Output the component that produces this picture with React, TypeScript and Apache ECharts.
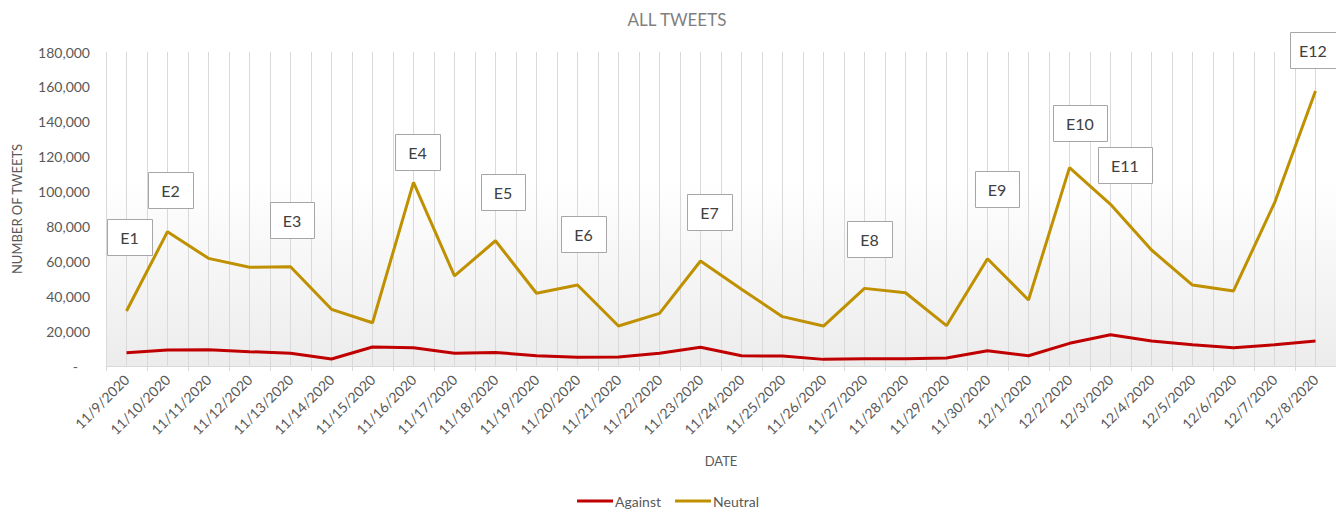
import React, { useEffect, useRef } from "react";
import * as echarts from "echarts";

const dates = [
  "11/9/2020", "11/10/2020", "11/11/2020", "11/12/2020", "11/13/2020", "11/14/2020",
  "11/15/2020", "11/16/2020", "11/17/2020", "11/18/2020", "11/19/2020", "11/20/2020",
  "11/21/2020", "11/22/2020", "11/23/2020", "11/24/2020", "11/25/2020", "11/26/2020",
  "11/27/2020", "11/28/2020", "11/29/2020", "11/30/2020", "12/1/2020", "12/2/2020",
  "12/3/2020", "12/4/2020", "12/5/2020", "12/6/2020", "12/7/2020", "12/8/2020",
];

const against = [
  7600, 9200, 9300, 8200, 7300, 4000, 10900, 10500, 7300, 7800, 5900, 5000,
  5200, 7300, 10700, 5900, 5700, 3800, 4200, 4200, 4600, 8800, 5900, 13000,
  17900, 14300, 12200, 10500, 12200, 14300,
];

const neutral = [
  31500, 77000, 61700, 56600, 56900, 32500, 24800, 105300, 51600, 71800, 41700, 46400,
  22900, 30200, 60200, 44000, 28300, 22900, 44500, 42000, 23100, 61500, 37800, 113700,
  92700, 66500, 46400, 43000, 93500, 157600,
];

const eventLabels = ["E1", "E2", "E3", "E4", "E5", "E6", "E7", "E8", "E9", "E10", "E11", "E12"];

// layout of annotation boxes (pixels)
const eventBoxes = [
  { x: 107, y: 219, w: 45 },
  { x: 148, y: 172, w: 45 },
  { x: 270, y: 202, w: 44 },
  { x: 395, y: 134, w: 45 },
  { x: 481, y: 174, w: 44 },
  { x: 561, y: 216, w: 45 },
  { x: 687, y: 194, w: 45 },
  { x: 847, y: 221, w: 45 },
  { x: 975, y: 171, w: 44 },
  { x: 1053, y: 105, w: 54 },
  { x: 1098, y: 147, w: 54 },
  { x: 1290, y: 32, w: 46 },
];

const FONT = "Lato, 'Open Sans', sans-serif";
const GRAY = "#595959";

export default function App() {
  const ref = useRef<HTMLDivElement>(null);

  useEffect(() => {
    if (!ref.current) return;
    const chart = echarts.init(ref.current, null, { renderer: "svg" });

    const graphics: any[] = [];
    eventLabels.forEach((label, i) => {
      const b = eventBoxes[i];
      graphics.push({
        type: "rect",
        x: b.x + 0.5,
        y: b.y + 0.5,
        z: 100,
        zlevel: 0,
        shape: { x: 0, y: 0, width: b.w, height: 36 },
        style: { fill: "#ffffff", stroke: "#a6a6a6", lineWidth: 1 },
      });
      graphics.push({
        type: "text",
        x: b.x + b.w / 2,
        y: b.y + 18,
        z: 101,
        zlevel: 0,
        style: {
          text: label,
          font: `16px ${FONT}`,
          fill: "#404040",
          align: "center",
          verticalAlign: "middle",
        },
      });
    });

    chart.setOption({
      animation: false,
      backgroundColor: "#ffffff",
      textStyle: { fontFamily: FONT },
      title: {
        text: "ALL TWEETS",
        left: 672,
        top: 6,
        textAlign: "center",
        textStyle: { fontSize: 17, fontWeight: "normal", color: "#7f7f7f", fontFamily: FONT },
      },
      legend: {
        data: ["Against", "Neutral"],
        left: "center",
        top: 489,
        icon: "rect",
        itemWidth: 36,
        itemHeight: 3,
        itemGap: 14,
        textStyle: { fontSize: 14, color: GRAY, fontFamily: FONT, padding: [0, 0, 0, -3] },
      },
      grid: {
        left: 106,
        top: 52,
        width: 1232,
        height: 314,
        show: true,
        borderWidth: 0,
        backgroundColor: new echarts.graphic.LinearGradient(0, 0, 0, 1, [
          { offset: 0, color: "#ffffff" },
          { offset: 0.4, color: "#ffffff" },
          { offset: 1, color: "#ececec" },
        ]),
      },
      xAxis: [
        {
          type: "category",
          data: dates,
          boundaryGap: true,
          name: "DATE",
          nameLocation: "middle",
          nameGap: 88,
          nameTextStyle: { fontSize: 13, color: GRAY, fontFamily: FONT },
          axisLine: { lineStyle: { color: "#d9d9d9" } },
          axisTick: { show: true, interval: 0, length: 5, lineStyle: { color: "#d9d9d9" } },
          axisLabel: {
            interval: 0,
            rotate: 45,
            fontSize: 14,
            color: GRAY,
            margin: 11,
            fontFamily: FONT,
          },
          splitLine: { show: false },
        },
        {
          type: "value",
          min: -0.5,
          max: 29.5,
          interval: 0.5,
          position: "bottom",
          axisLine: { show: false },
          axisTick: { show: false },
          axisLabel: { show: false },
          splitLine: { show: true, lineStyle: { color: "#d9d9d9", width: 1 } },
        },
      ],
      yAxis: {
        type: "value",
        min: 0,
        max: 180000,
        interval: 20000,
        name: "NUMBER OF TWEETS",
        nameLocation: "middle",
        nameRotate: 90,
        nameGap: 83,
        nameTextStyle: { fontSize: 13, color: GRAY, fontFamily: FONT },
        axisLine: { show: true, lineStyle: { color: "#d9d9d9" } },
        axisTick: { show: false },
        splitLine: { show: false },
        axisLabel: {
          margin: 16,
          fontSize: 14,
          color: GRAY,
          fontFamily: FONT,
          formatter: (v: number) => (v === 0 ? "{d|-}" : v.toLocaleString("en-US")),
          rich: { d: { padding: [0, 12, 0, 0], fontSize: 14, color: GRAY } },
        },
      },
      series: [
        {
          name: "Against",
          type: "line",
          data: against,
          xAxisIndex: 0,
          symbol: "none",
          lineStyle: { color: "#c00000", width: 3 },
          itemStyle: { color: "#c00000" },
          z: 3,
        },
        {
          name: "Neutral",
          type: "line",
          data: neutral,
          xAxisIndex: 0,
          symbol: "none",
          lineStyle: { color: "#bf9000", width: 3 },
          itemStyle: { color: "#bf9000" },
          z: 3,
        },
      ],
      graphic: graphics,
    });

    return () => chart.dispose();
  }, []);

  return (
    <div
      ref={ref}
      style={{ position: "fixed", left: 0, top: 0, width: 1336, height: 510 }}
    />
  );
}
